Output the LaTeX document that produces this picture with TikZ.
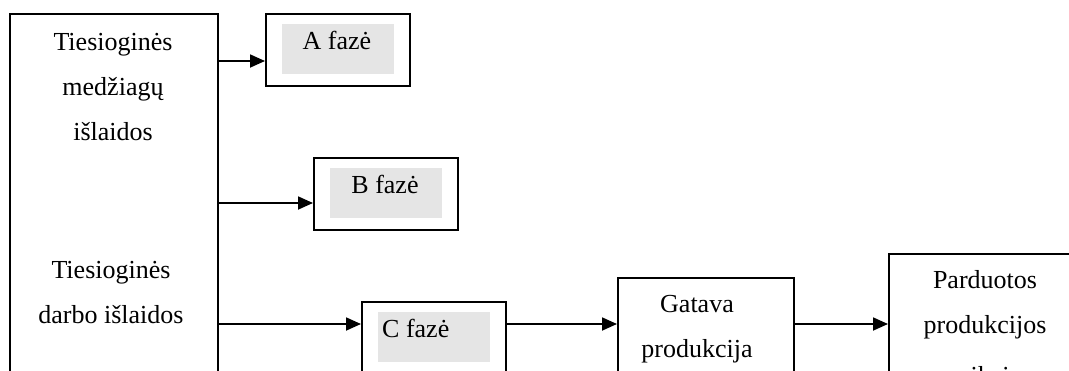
\documentclass[tikz,border=0pt]{standalone}
\usepackage{fontspec}
\setmainfont{Liberation Serif}
\usetikzlibrary{arrows.meta}

\tikzset{
  box/.style={draw,line width=1.8pt,anchor=north west,inner sep=0pt},
  greyfill/.style={fill=black!10,anchor=north west,inner sep=0pt,minimum width=112pt,minimum height=50pt},
  txt/.style={anchor=base,align=center,inner sep=0pt,font=\fontsize{26}{45}\selectfont},
}

\begin{document}
\begin{tikzpicture}[x=1pt,y=-1pt,>={Triangle[length=15pt,width=13pt]}]
  \useasboundingbox (0,0) rectangle (1069,370);
  \clip (0,0) rectangle (1069,370);
  \node[box,minimum width=208pt,minimum height=450pt] (costs) at (9,13) {};
  \node[box,minimum width=144pt,minimum height=72pt] (phA) at (265,13) {};
  \node[box,minimum width=144pt,minimum height=72pt] (phB) at (313,157) {};
  \node[box,minimum width=144pt,minimum height=120pt] (phC) at (361,301) {};
  \node[box,minimum width=176pt,minimum height=150pt] (done) at (617,277) {};
  \node[box,minimum width=250pt,minimum height=170pt] (sold) at (888,253) {};
  \node[greyfill] (gA) at (282,24) {};
  \node[greyfill] (gB) at (330,168) {};
  \node[greyfill] (gC) at (378,312) {};
  \node[txt] (mat) at (113,140) {Tiesioginės\\medžiagų\\išlaidos};
  \node[txt] (lab) at (111,323) {Tiesioginės\\darbo išlaidos};
  \node[txt] (tA) at (337,49) {A fazė};
  \node[txt] (tB) at (385,193) {B fazė};
  \node[txt,anchor=base west] (tC) at (382,337) {C fazė};
  \node[txt] (tdone) at (697,357) {Gatava\\produkcija};
  \node[txt] (tsold) at (985,384) {Parduotos\\produkcijos\\[6pt]savikaina};
  \coordinate (rowA) at (0,61);
  \coordinate (rowB) at (0,203);
  \coordinate (rowC) at (0,324);
  \draw[->,line width=1.8pt] (rowA -| costs.east) -- (rowA -| phA.west);
  \draw[->,line width=1.8pt] (rowB -| costs.east) -- (rowB -| phB.west);
  \draw[->,line width=1.8pt] (rowC -| costs.east) -- (rowC -| phC.west);
  \draw[->,line width=1.8pt] (rowC -| phC.east) -- (rowC -| done.west);
  \draw[->,line width=1.8pt] (rowC -| done.east) -- (rowC -| sold.west);
\end{tikzpicture}
\end{document}
